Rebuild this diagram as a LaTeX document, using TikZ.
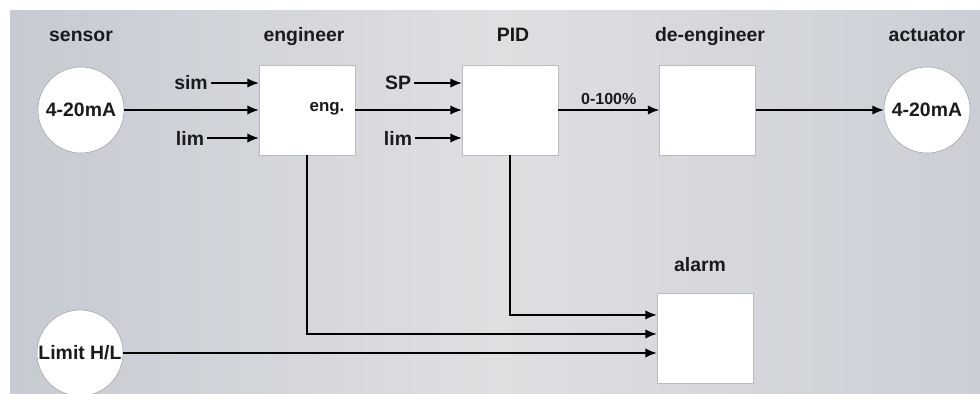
\documentclass[tikz,border=0pt]{standalone}
\usepackage{fontspec}
\setmainfont{Liberation Sans}
\usetikzlibrary{arrows.meta, calc}

\definecolor{bgleft}{RGB}{198,203,210}
\definecolor{bgmid}{RGB}{223,223,226}
\definecolor{bgright}{RGB}{203,207,213}
\definecolor{txtdark}{RGB}{26,26,28}
\definecolor{boxedge}{RGB}{184,188,192}
\definecolor{ringedge}{RGB}{160,164,168}

\begin{document}
\begin{tikzpicture}[x=0.025cm, y=-0.025cm, >={Latex[length=8pt,width=6.5pt]},
  blk/.style={draw=boxedge, fill=white, minimum width=2.4cm, minimum height=2.25cm, inner sep=0pt},
  ring/.style={circle, draw=ringedge, fill=white, minimum size=2.15cm, inner sep=0pt,
    text=txtdark, font=\bfseries\fontsize{13.8}{16}\selectfont},
  title/.style={anchor=base, text=txtdark, font=\bfseries\fontsize{13.8}{16}\selectfont},
  sig/.style={text=txtdark, inner sep=2pt, font=\bfseries\fontsize{13.8}{16}\selectfont},
  wire/.style={line width=0.85pt}]
  % Page and grey backdrop
  \useasboundingbox (0,0) rectangle (980,394);
  \shade[left color=bgleft, right color=bgright, middle color=bgmid] (10,11) rectangle (980,394);
  % Titles
  \node[title] (tsensor) at (81,42) {sensor};
  \node[title] (teng) at (304,42) {engineer};
  \node[title] (tpid) at (513,42) {PID};
  \node[title] (tdeeng) at (710,42) {de-engineer};
  \node[title] (tact) at (927,42) {actuator};
  \node[title] (talarm) at (700,271) {alarm};
  % Circles
  \node[ring] (sensor) at (81,110) {4-20mA};
  \node[ring] (act) at (927,110) {4-20mA};
  \node[ring] (limit) at (80,353) {Limit H/L};
  % Blocks
  \node[blk] (eng) at (307,110) {};
  \node[blk] (pid) at (510,110) {};
  \node[blk] (deeng) at (707.5,110) {};
  \node[blk] (alarm) at (705,338.5) {};
  \node[text=txtdark, font=\bfseries\fontsize{12}{14}\selectfont] (engtxt) at (327,109) {eng.};
  % Side inputs
  \node[sig] (sim) at (191,83) {sim};
  \node[sig] (lima) at (190,138) {lim};
  \node[sig] (sp) at (398,83) {SP};
  \node[sig] (limb) at (398,138) {lim};
  \draw[wire, ->] (sim.east) -- (sim.east -| eng.west);
  \draw[wire, ->] (lima.east) -- (lima.east -| eng.west);
  \draw[wire, ->] (sp.east) -- (sp.east -| pid.west);
  \draw[wire, ->] (limb.east) -- (limb.east -| pid.west);
  % Main signal chain
  \draw[wire, ->] (sensor.east) -- (sensor.east -| eng.west);
  \draw[wire, ->] (eng.east) -- (eng.east -| pid.west);
  \draw[wire, ->] (pid.east) -- node[above, text=txtdark, font=\bfseries\fontsize{11.4}{13}\selectfont] {0-100\%} (deeng.west);
  \draw[wire, ->] (deeng.east) -- (act.west);
  % Alarm inputs
  \draw[wire, ->] (pid.south) |- ($(alarm.north west)!0.24!(alarm.south west)$);
  \draw[wire, ->] (eng.south) |- ($(alarm.north west)!0.45!(alarm.south west)$);
  \draw[wire, ->] (limit.east) -- (limit.east -| alarm.west);
\end{tikzpicture}
\end{document}
